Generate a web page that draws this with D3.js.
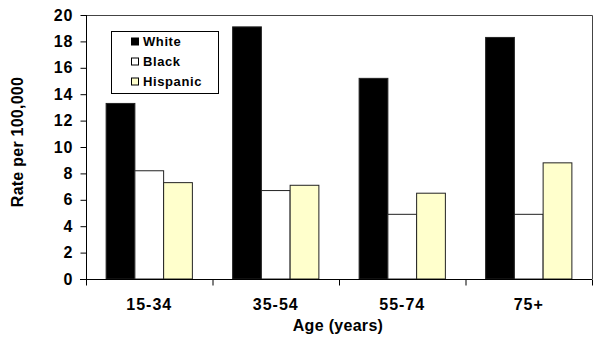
<!DOCTYPE html>
<html><head><meta charset="utf-8">
<script src="https://cdn.jsdelivr.net/npm/d3@7"></script>
<style>body{margin:0;background:#fff}svg{display:block}</style>
</head><body>
<svg id="c" width="600" height="345"></svg>
<script>
const categories = ["15-34", "35-54", "55-74", "75+"];
const seriesNames = ["White", "Black", "Hispanic"];
const white = [13.3, 19.1, 15.2, 18.3];
const black = [8.2, 6.7, 4.9, 4.9];
const hispanic = [7.3, 7.1, 6.5, 8.8];
const yTicks = [0, 2, 4, 6, 8, 10, 12, 14, 16, 18, 20];
const colors = ["#000000", "#ffffff", "#ffffcc"];

const series = [white, black, hispanic];
const svg = d3.select("#c");
const font = "'Liberation Sans', Arial, sans-serif";
const m = {left: 86, top: 15, right: 592, bottom: 279};

const x = d3.scaleBand().domain(categories).range([m.left, m.right]).paddingInner(0).paddingOuter(0);
const x1 = d3.scaleBand().domain(seriesNames).range([0, x.bandwidth()]).paddingInner(0).paddingOuter(0.7);
const y = d3.scaleLinear().domain([0, 20]).range([m.bottom, m.top]);

// frame top/right
svg.append("path")
  .attr("d", `M${m.left},${m.top + 0.5}H${m.right + 0.5}V${m.bottom}`)
  .attr("fill", "none").attr("stroke", "#444").attr("stroke-width", 1);

// bars
categories.forEach((c, i) => {
  seriesNames.forEach((s, j) => {
    svg.append("rect")
      .attr("x", x(c) + x1(s))
      .attr("y", y(series[j][i]))
      .attr("width", x1.bandwidth())
      .attr("height", y(0) - y(series[j][i]))
      .attr("fill", colors[j])
      .attr("stroke", "#222").attr("stroke-width", 1);
  });
});

// y axis
const ya = svg.append("g").attr("transform", `translate(${m.left + 0.5},0)`)
  .call(d3.axisLeft(y).tickValues(yTicks).tickSize(6).tickPadding(7).tickFormat(d3.format("d")));
ya.select(".domain").attr("stroke", "#000").attr("d", `M0,${m.top}V${m.bottom}`);
ya.selectAll("line").attr("stroke", "#000");
ya.selectAll("text").attr("font-family", font).attr("font-size", 16).attr("font-weight", "bold")
  .attr("letter-spacing", 1).attr("fill", "#000");

// x axis
const xa = svg.append("g").attr("transform", `translate(0,${m.bottom + 0.5})`)
  .call(d3.axisBottom(x).tickSize(0).tickPadding(19.5));
xa.select(".domain").attr("stroke", "#000").attr("d", `M${m.left - 6},0H${m.right}`);
xa.selectAll("text").attr("font-family", font).attr("font-size", 16).attr("font-weight", "bold")
  .attr("letter-spacing", 1).attr("fill", "#000");
// boundary ticks
const bounds = categories.map(c => x(c)).concat([m.right]);
xa.selectAll(".btick").data(bounds).enter().append("line")
  .attr("x1", d => d + 0.5).attr("x2", d => d + 0.5).attr("y1", 0).attr("y2", 6)
  .attr("stroke", "#000");

// axis titles
svg.append("text").attr("transform", `translate(23,142) rotate(-90)`)
  .attr("text-anchor", "middle").attr("font-family", font).attr("font-size", 16).attr("font-weight", "bold")
  .attr("letter-spacing", 0.25).text("Rate per 100,000");
svg.append("text").attr("x", 338).attr("y", 331)
  .attr("text-anchor", "middle").attr("font-family", font).attr("font-size", 16).attr("font-weight", "bold")
  .attr("letter-spacing", 0.3).text("Age (years)");

// legend
const lg = svg.append("g");
lg.append("rect").attr("x", 111.5).attr("y", 31.5).attr("width", 107).attr("height", 62)
  .attr("fill", "#fff").attr("stroke", "#000").attr("stroke-width", 1);
seriesNames.forEach((s, j) => {
  const cy = 41.5 + j * 20;
  lg.append("rect").attr("x", 131.5).attr("y", cy - 3.5).attr("width", 7).attr("height", 7)
    .attr("fill", colors[j]).attr("stroke", "#000").attr("stroke-width", 1);
  lg.append("text").attr("x", 143).attr("y", cy + 4.5)
    .attr("font-family", font).attr("font-size", 13).attr("font-weight", "bold")
    .attr("letter-spacing", 0.6).text(s);
});
</script>
</body></html>
